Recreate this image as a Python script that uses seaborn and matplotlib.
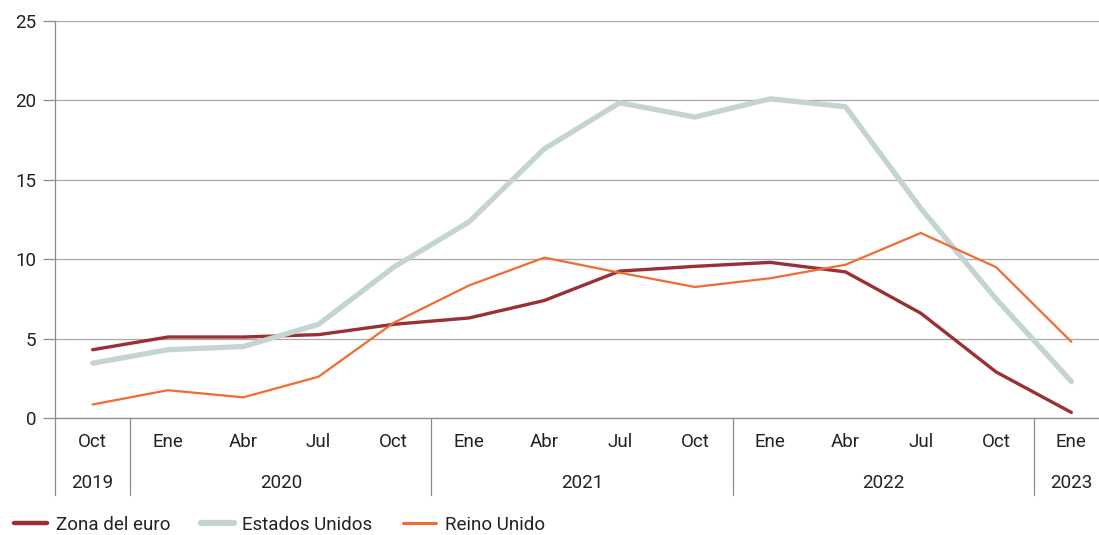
import pandas as pd
import matplotlib.pyplot as plt
import seaborn as sns
from matplotlib.lines import Line2D
import matplotlib.transforms as mtransforms

meses = ['Oct', 'Ene', 'Abr', 'Jul', 'Oct', 'Ene', 'Abr', 'Jul', 'Oct',
         'Ene', 'Abr', 'Jul', 'Oct', 'Ene']
anios = ['2019', '2020', '2021', '2022', '2023']
anio_centro = [0, 2.5, 6.5, 10.5, 13]
anio_cortes = [0.5, 4.5, 8.5, 12.5]

zona_euro = [4.3, 5.1, 5.1, 5.25, 5.9, 6.3, 7.4, 9.25, 9.55, 9.8, 9.2, 6.6, 2.9, 0.35]
estados_unidos = [3.45, 4.3, 4.5, 5.9, 9.5, 12.35, 16.95, 19.85, 18.95, 20.1, 19.6, 13.2, 7.5, 2.3]
reino_unido = [0.85, 1.75, 1.3, 2.6, 6.0, 8.35, 10.1, 9.15, 8.25, 8.8, 9.65, 11.65, 9.5, 4.8]

series = {'Zona del euro': zona_euro, 'Estados Unidos': estados_unidos, 'Reino Unido': reino_unido}
colores = {'Zona del euro': '#9a2f35', 'Estados Unidos': '#c3d4d2', 'Reino Unido': '#f26b30'}
grosores = {'Zona del euro': 2.4, 'Estados Unidos': 3.8, 'Reino Unido': 1.6}

df = pd.concat([pd.DataFrame({'t': range(len(v)), 'valor': v, 'serie': k}) for k, v in series.items()])

sns.set_style('white')
plt.rcParams['font.family'] = ['Roboto', 'DejaVu Sans']
gris = '#8c8c8c'
texto = '#222222'
fs = 13.5

fig = plt.figure(figsize=(10.99, 5.35), dpi=100)
ax = fig.add_axes([55 / 1099, 117 / 535, 1044 / 1099, 397 / 535])

sns.lineplot(data=df, x='t', y='valor', hue='serie', size='serie', palette=colores,
             sizes=grosores, hue_order=list(series), ax=ax, legend=False, zorder=3)

ax.set_ylim(0, 25)
ax.set_xlim(-0.5, 13.5 - 10 / 75.3)
ax.set_yticks(range(0, 26, 5))
ax.yaxis.grid(True, color='#a8a8a8', linewidth=0.9)
ax.set_xlabel('')
ax.set_ylabel('')

ax.set_xticks(range(len(meses)))
ax.set_xticklabels(meses)
ax.set_xticks([i - 0.5 for i in range(1, len(meses))], minor=True)
ax.tick_params(axis='x', which='major', length=0, pad=11, labelsize=fs, labelcolor=texto)
ax.tick_params(axis='x', which='minor', length=27, width=0.9, color=gris, direction='out')
ax.tick_params(axis='y', length=8.5, width=0.9, color=gris, pad=5, labelsize=fs,
               labelcolor=texto, left=True)

for lado in ['top', 'right']:
    ax.spines[lado].set_visible(False)
for lado in ['left', 'bottom']:
    ax.spines[lado].set_color(gris)
    ax.spines[lado].set_linewidth(0.9)

trans = mtransforms.blended_transform_factory(ax.transData, ax.transAxes)
bajo = -77 / 397
for c in anio_cortes:
    ax.plot([c, c], [0, bajo], transform=trans, color=gris, lw=0.9, clip_on=False)
ax.plot([-0.5, -0.5], [0, bajo], transform=trans, color=gris, lw=0.9, clip_on=False)
for a, xc in zip(anios, anio_centro):
    ax.text(xc, -65 / 397, a, transform=trans, ha='center', va='center', fontsize=fs, color=texto)

handles = [Line2D([], [], color=colores[k]) for k in series]
handles[0].set_linewidth(3.2)
handles[1].set_linewidth(4.5)
handles[2].set_linewidth(2.2)
fig.legend(handles, list(series), loc='center left', bbox_to_anchor=(14 / 1099, 10 / 535), ncol=3,
           frameon=False, fontsize=fs, handlelength=1.76, handletextpad=0.48, columnspacing=1.6,
           borderpad=0, borderaxespad=0, labelcolor=texto)

fig.savefig('out.png', dpi=100)
